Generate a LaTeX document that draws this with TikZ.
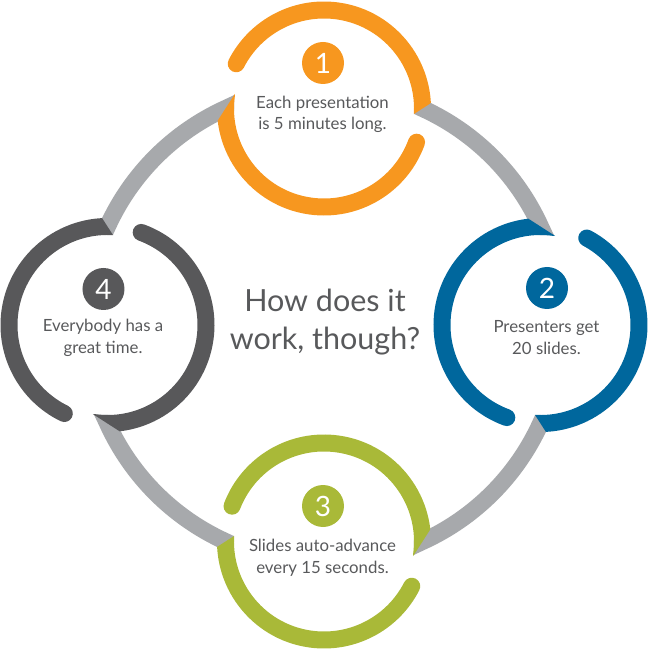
\documentclass[tikz,border=0pt]{standalone}
\usepackage{fontspec}
\setmainfont{Lato}
\usetikzlibrary{calc}

\definecolor{orangeRing}{HTML}{F7971F}
\definecolor{blueRing}{HTML}{00679D}
\definecolor{greenRing}{HTML}{A9B938}
\definecolor{darkRing}{HTML}{58585A}
\definecolor{linkGray}{HTML}{A7A9AC}
\definecolor{textGray}{HTML}{58595B}

\newcommand\rr{98.5}
\newcommand\RR{237.854}
\newcommand\al{24.46}

\tikzset{
  ring/.style={line width=17pt, line cap=round, draw=#1},
  link/.style={line width=17pt, line join=miter, draw=linkGray},
  numdot/.style={circle, fill=#1, minimum size=42pt, inner sep=0pt, text=white,
    font=\fontsize{28}{28}\selectfont},
  caption/.style={align=center, text=textGray, font=\fontsize{16.8}{21.5}\selectfont},
  question/.style={align=center, text=textGray, font=\fontsize{30.5}{38}\selectfont},
}

% colour, centre, joint angle, end angle, mitre angle
\newcommand\ringpart[5]{%
  \begin{scope}
    \clip ($(#2)+(#3:\rr)$) ++(#5:400) -- ++(#5+90:400) -- ++(#5+180:800) -- ++(#5-90:400) -- cycle;
    \draw[ring=#1] ($(#2)+(#3-8:\rr)$) arc[start angle=#3-8, end angle=#4, radius=\rr];
  \end{scope}}

\begin{document}
\begin{tikzpicture}[x=1pt, y=1pt]
    \useasboundingbox (-324,-325) rectangle (326,325);
    % ring centres
    \coordinate (o1) at (0,216.5);
    \coordinate (o2) at (216.5,0);
    \coordinate (o3) at (0,-216.5);
    \coordinate (o4) at (-216.5,0);
    % joints
    \coordinate (j1) at ($(o1)+(0:\rr)$);
    \coordinate (j2) at ($(o2)+(90:\rr)$);
    \coordinate (j3) at ($(o2)+(270:\rr)$);
    \coordinate (j4) at ($(o3)+(0:\rr)$);
    \coordinate (j5) at ($(o3)+(180:\rr)$);
    \coordinate (j6) at ($(o4)+(270:\rr)$);
    \coordinate (j7) at ($(o4)+(90:\rr)$);
    \coordinate (j8) at ($(o1)+(180:\rr)$);
    % grey links
    \draw[link] ($(j1)+(90:2)$) -- (j1) arc[start angle=90-\al, end angle=\al, radius=\RR] -- ($(j2)+(180:2)$);
    \draw[link] ($(j3)+(0:2)$) -- (j3) arc[start angle=-\al, end angle=-90+\al, radius=\RR] -- ($(j4)+(90:2)$);
    \draw[link] ($(j5)+(270:2)$) -- (j5) arc[start angle=-90-\al, end angle=-180+\al, radius=\RR] -- ($(j6)+(0:2)$);
    \draw[link] ($(j7)+(180:2)$) -- (j7) arc[start angle=180-\al, end angle=90+\al, radius=\RR] -- ($(j8)+(270:2)$);
    % rings
    \ringpart{orangeRing}{o1}{0}{153}{32.77}
    \ringpart{orangeRing}{o1}{180}{340}{237.23}
    \ringpart{blueRing}{o2}{90}{250}{147.23}
    \ringpart{blueRing}{o2}{270}{422}{-57.23}
    \ringpart{greenRing}{o3}{0}{159}{57.23}
    \ringpart{greenRing}{o3}{180}{333}{212.77}
    \ringpart{darkRing}{o4}{90}{244}{122.77}
    \ringpart{darkRing}{o4}{270}{430}{-32.77}
    % labels
    \node[numdot=orangeRing] (n1) at (-1,262) {1};
    \node[caption] (t1) at (-1.5,210.5) {Each presentation\\is 5 minutes long.};
    \node[numdot=blueRing] (n2) at (223,37) {2};
    \node[caption] (t2) at (222.5,-12.5) {Presenters get\\20 slides.};
    \node[numdot=greenRing] (n3) at (-1,-181) {3};
    \node[caption] (t3) at (-1.5,-233) {Slides auto-advance\\every 15 seconds.};
    \node[numdot=darkRing] (n4) at (-220.5,36) {4};
    \node[caption] (t4) at (-221,-13) {Everybody has a\\great time.};
    \node[question] (q) at (1,3) {How does it\\work, though?};
\end{tikzpicture}
\end{document}
